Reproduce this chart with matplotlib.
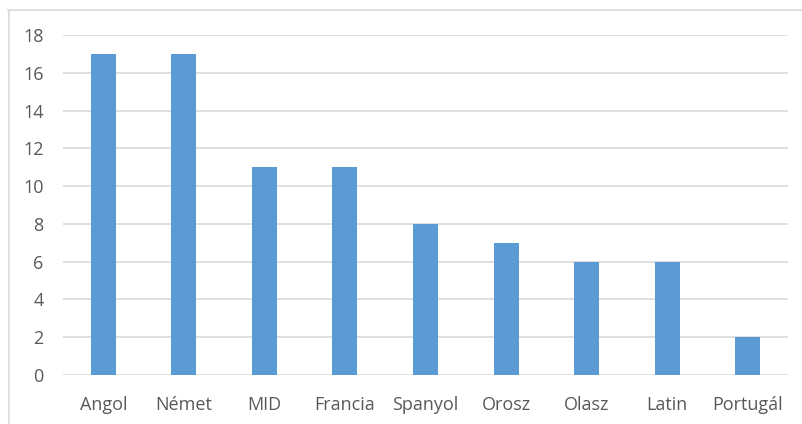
import matplotlib.pyplot as plt
from matplotlib.lines import Line2D

languages = ['Angol', 'Német', 'MID', 'Francia', 'Spanyol', 'Orosz', 'Olasz', 'Latin', 'Portugál']
counts = [17, 17, 11, 11, 8, 7, 6, 6, 2]
yticks = [0, 2, 4, 6, 8, 10, 12, 14, 16, 18]

plt.rcParams['font.family'] = ['Open Sans', 'DejaVu Sans']

fig = plt.figure(figsize=(8.03, 4.24), dpi=100)
ax = fig.add_axes([63 / 803, 1 - 375 / 424, 725 / 803, 340 / 424])

x = range(len(languages))
ax.bar(x, counts, width=0.31, color='#5B9BD5', zorder=3)
ax.set_xlim(-0.5, len(languages) - 0.5)
ax.set_ylim(0, 18)
ax.set_yticks(yticks)
ax.set_xticks(list(x))
ax.set_xticklabels(languages)
ax.grid(axis='y', color='#D9D9D9', linewidth=1.2, zorder=0)
for s in ax.spines.values():
    s.set_visible(False)
ax.tick_params(length=0, labelsize=13, labelcolor='#595959')
ax.tick_params(axis='y', pad=14)
ax.tick_params(axis='x', pad=15)

# chart frame (cut off at right and bottom)
fig.add_artist(Line2D([8.5 / 803, 8.5 / 803], [0, 1 - 10 / 424], color='#D9D9D9', linewidth=1.2))
fig.add_artist(Line2D([8 / 803, 1], [1 - 10 / 424, 1 - 10 / 424], color='#D9D9D9', linewidth=1.2))

fig.savefig('out.png', dpi=100)
